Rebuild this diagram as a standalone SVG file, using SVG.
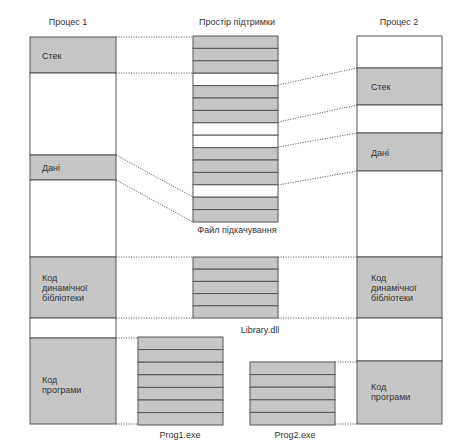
<svg xmlns="http://www.w3.org/2000/svg" width="458" height="440" viewBox="0 0 458 440">
<style>
.g{fill:#c6c6c6;stroke:#555;stroke-width:1}
.w{fill:#ffffff;stroke:#555;stroke-width:1}
.t{font-family:"Liberation Sans",Arial,sans-serif;font-size:9px;fill:#333}
.c{text-anchor:middle}
.d{fill:none;stroke:#555;stroke-width:0.9;stroke-dasharray:1.2 1.3}
</style>
<rect width="458" height="440" fill="#fff"/>
<g id="connectors">
<line class="d" x1="116" y1="37" x2="193" y2="37"/>
<line class="d" x1="116" y1="73" x2="193" y2="73"/>
<line class="d" x1="116" y1="155" x2="193" y2="197"/>
<line class="d" x1="116" y1="180" x2="193" y2="222"/>
<line class="d" x1="116" y1="257" x2="193" y2="257"/>
<line class="d" x1="116" y1="318" x2="193" y2="318"/>
<line class="d" x1="278" y1="85" x2="357" y2="68"/>
<line class="d" x1="278" y1="122" x2="357" y2="105"/>
<line class="d" x1="278" y1="147" x2="357" y2="133"/>
<line class="d" x1="278" y1="185" x2="357" y2="171"/>
<line class="d" x1="278" y1="257" x2="357" y2="257"/>
<line class="d" x1="278" y1="318" x2="357" y2="318"/>
<line class="d" x1="116" y1="338" x2="138" y2="338"/>
<line class="d" x1="116" y1="424" x2="138" y2="424"/>
<line class="d" x1="335" y1="362" x2="357" y2="362"/>
<line class="d" x1="335" y1="424" x2="357" y2="424"/>
</g>
<g id="process1">
<text class="t c" x="68" y="25">Процес 1</text>
<rect class="g" x="30" y="37" width="86" height="36"/>
<rect class="w" x="30" y="73" width="86" height="82"/>
<rect class="g" x="30" y="155" width="86" height="25"/>
<rect class="w" x="30" y="180" width="86" height="77"/>
<rect class="g" x="30" y="257" width="86" height="61"/>
<rect class="w" x="30" y="318" width="86" height="20"/>
<rect class="g" x="30" y="338" width="86" height="86"/>
<text class="t" x="42" y="59">Стек</text>
<text class="t" x="42" y="171">Дані</text>
<text class="t" x="42" y="281">Код</text>
<text class="t" x="42" y="291">динамічної</text>
<text class="t" x="42" y="301">бібліотеки</text>
<text class="t" x="42" y="383">Код</text>
<text class="t" x="42" y="393">програми</text>
</g>
<g id="swap">
<text class="t c" x="237" y="25">Простір підтримки</text>
<rect class="g" x="193" y="36" width="85" height="12.4"/>
<rect class="g" x="193" y="48.4" width="85" height="12.4"/>
<rect class="g" x="193" y="60.8" width="85" height="12.4"/>
<rect class="w" x="193" y="73.2" width="85" height="12.4"/>
<rect class="g" x="193" y="85.6" width="85" height="12.4"/>
<rect class="g" x="193" y="98" width="85" height="12.4"/>
<rect class="g" x="193" y="110.4" width="85" height="12.4"/>
<rect class="w" x="193" y="122.8" width="85" height="12.4"/>
<rect class="w" x="193" y="135.2" width="85" height="12.4"/>
<rect class="g" x="193" y="147.6" width="85" height="12.4"/>
<rect class="g" x="193" y="160" width="85" height="12.4"/>
<rect class="g" x="193" y="172.4" width="85" height="12.4"/>
<rect class="w" x="193" y="184.8" width="85" height="12.4"/>
<rect class="g" x="193" y="197.2" width="85" height="12.4"/>
<rect class="g" x="193" y="209.6" width="85" height="12.4"/>
<text class="t c" x="237" y="233">Файл підкачування</text>
</g>
<g id="library">
<rect class="g" x="193" y="257" width="85" height="12.2"/>
<rect class="g" x="193" y="269.2" width="85" height="12.2"/>
<rect class="g" x="193" y="281.4" width="85" height="12.2"/>
<rect class="g" x="193" y="293.6" width="85" height="12.2"/>
<rect class="g" x="193" y="305.8" width="85" height="12.2"/>
<text class="t c" x="260" y="333">Library.dll</text>
</g>
<g id="prog1">
<rect class="g" x="138" y="337" width="85" height="12.6"/>
<rect class="g" x="138" y="349.6" width="85" height="12.6"/>
<rect class="g" x="138" y="362.2" width="85" height="12.6"/>
<rect class="g" x="138" y="374.8" width="85" height="12.6"/>
<rect class="g" x="138" y="387.4" width="85" height="12.6"/>
<rect class="g" x="138" y="400" width="85" height="12.6"/>
<rect class="g" x="138" y="412.6" width="85" height="12.4"/>
<text class="t c" x="180" y="438">Prog1.exe</text>
</g>
<g id="prog2">
<rect class="g" x="250" y="362" width="85" height="12.6"/>
<rect class="g" x="250" y="374.6" width="85" height="12.6"/>
<rect class="g" x="250" y="387.2" width="85" height="12.6"/>
<rect class="g" x="250" y="399.8" width="85" height="12.6"/>
<rect class="g" x="250" y="412.4" width="85" height="12.6"/>
<text class="t c" x="295" y="438">Prog2.exe</text>
</g>
<g id="process2">
<text class="t c" x="399" y="25">Процес 2</text>
<rect class="w" x="357" y="36" width="85" height="32"/>
<rect class="g" x="357" y="68" width="85" height="37"/>
<rect class="w" x="357" y="105" width="85" height="28"/>
<rect class="g" x="357" y="133" width="85" height="38"/>
<rect class="w" x="357" y="171" width="85" height="86"/>
<rect class="g" x="357" y="257" width="85" height="61"/>
<rect class="w" x="357" y="318" width="85" height="43"/>
<rect class="g" x="357" y="361" width="85" height="63"/>
<text class="t" x="371" y="90">Стек</text>
<text class="t" x="371" y="156">Дані</text>
<text class="t" x="371" y="281">Код</text>
<text class="t" x="371" y="291">динамічної</text>
<text class="t" x="371" y="301">бібліотеки</text>
<text class="t" x="371" y="390">Код</text>
<text class="t" x="371" y="400">програми</text>
</g>
</svg>
